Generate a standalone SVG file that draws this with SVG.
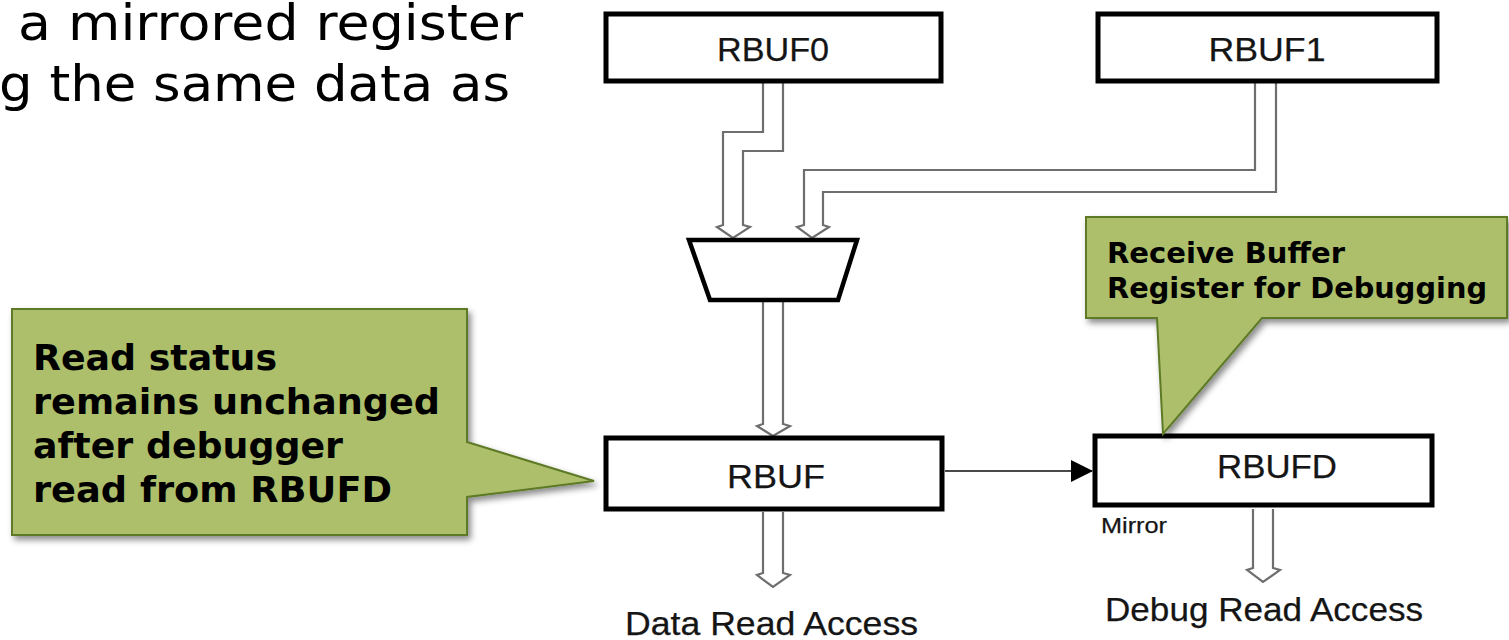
<svg xmlns="http://www.w3.org/2000/svg" width="1509" height="640" viewBox="0 0 1509 640">
  <style>
    .reg { fill: #ffffff; stroke: #000000; stroke-width: 5; }
    .mux { fill: #ffffff; stroke: #000000; stroke-width: 4.5; stroke-linejoin: miter; }
    .bus { fill: none; stroke: #6e6e6e; stroke-width: 2.2; stroke-linejoin: miter; }
    .wire { fill: none; stroke: #4a4a4a; stroke-width: 2.2; }
    .lbl { font-family: "Liberation Sans", Arial, sans-serif; fill: #151515; stroke: #151515; stroke-width: 0.25; }
    .note { fill: #adbf6b; stroke: #5e7a25; stroke-width: 2; }
    .noteText { font-family: "DejaVu Sans", Verdana, sans-serif; font-weight: bold; fill: #000000; }
    .body { font-family: "DejaVu Sans", Verdana, sans-serif; fill: #000000; }
  </style>
  <defs>
    <marker id="arrowHead" viewBox="0 0 22 22" refX="21" refY="11" markerWidth="22" markerHeight="22" markerUnits="userSpaceOnUse" orient="auto">
      <path d="M0,0 L22,11 L0,22 Z" fill="#000000"/>
    </marker>
    <filter id="shadow" x="-10%" y="-10%" width="125%" height="130%">
      <feDropShadow dx="3" dy="4" stdDeviation="3" flood-color="#000000" flood-opacity="0.45"/>
    </filter>
  </defs>

  <rect width="1509" height="640" fill="#ffffff"/>

  <!-- slide body text (partly off the left edge) -->
  <text class="body" x="18" y="40" font-size="50" textLength="505" lengthAdjust="spacingAndGlyphs">a mirrored register</text>
  <text class="body" x="-1" y="101" font-size="50" textLength="511" lengthAdjust="spacingAndGlyphs">g the same data as</text>

  <!-- connectors: hollow bus arrows and the mirror wire -->
  <g id="connectors">
    <path class="bus" d="M763,83 V132 H723 V225 L717,227 L733,238 L750,227 L743,225 V151 H783 V83"/>
    <path class="bus" d="M1255,83 V170 H804 V225 L797,227 L812,238 L829,227 L823,225 V192 H1276 V83"/>
    <path class="bus" d="M763,302 V424 L757,426 L773,436 L790,426 L783,424 V302"/>
    <path class="bus" d="M763,512 V573 L757,575 L773,587 L790,575 L783,573 V512"/>
    <path class="bus" d="M1253,509 V568 L1247,570 L1263,582 L1280,570 L1273,568 V509"/>
    <line class="wire" x1="945" y1="471" x2="1092" y2="471" marker-end="url(#arrowHead)"/>
  </g>

  <g id="rbuf0">
    <rect class="reg" x="606" y="14" width="335" height="67"/>
    <text class="lbl" x="773" y="61" font-size="34" text-anchor="middle" textLength="112" lengthAdjust="spacingAndGlyphs">RBUF0</text>
  </g>

  <g id="rbuf1">
    <rect class="reg" x="1098" y="14" width="339" height="67"/>
    <text class="lbl" x="1267" y="61" font-size="34" text-anchor="middle" textLength="117" lengthAdjust="spacingAndGlyphs">RBUF1</text>
  </g>

  <g id="mux">
    <polygon class="mux" points="689,240 857,240 838,300 710,300"/>
  </g>

  <g id="rbuf">
    <rect class="reg" x="606" y="438" width="336" height="71"/>
    <text class="lbl" x="776" y="488" font-size="34" text-anchor="middle" textLength="98" lengthAdjust="spacingAndGlyphs">RBUF</text>
    <text class="lbl" x="625" y="635" font-size="34" textLength="293" lengthAdjust="spacingAndGlyphs">Data Read Access</text>
  </g>

  <g id="rbufd">
    <rect class="reg" x="1095" y="436" width="337" height="69"/>
    <text class="lbl" x="1277" y="478" font-size="34" text-anchor="middle" textLength="120" lengthAdjust="spacingAndGlyphs">RBUFD</text>
    <text class="lbl" x="1101" y="533" font-size="22" textLength="66" lengthAdjust="spacingAndGlyphs">Mirror</text>
    <text class="lbl" x="1105" y="621" font-size="34" textLength="318" lengthAdjust="spacingAndGlyphs">Debug Read Access</text>
  </g>

  <!-- callout pointing at RBUF -->
  <g id="callout-read-status">
    <path class="note" filter="url(#shadow)" d="M12,309 H467 V442 L594,481 L467,497 V535 H12 Z"/>
    <text class="noteText" font-size="36">
      <tspan x="33" y="370" textLength="244" lengthAdjust="spacingAndGlyphs">Read status</tspan>
      <tspan x="33" y="414" textLength="407" lengthAdjust="spacingAndGlyphs">remains unchanged</tspan>
      <tspan x="33" y="458" textLength="310" lengthAdjust="spacingAndGlyphs">after debugger</tspan>
      <tspan x="33" y="502" textLength="359" lengthAdjust="spacingAndGlyphs">read from RBUFD</tspan>
    </text>
  </g>

  <!-- callout pointing at RBUFD -->
  <g id="callout-rbufd">
    <path class="note" filter="url(#shadow)" d="M1086,217 H1507 V318 H1262 L1163,434 L1157,318 H1086 Z"/>
    <text class="noteText" font-size="29">
      <tspan x="1107" y="263" textLength="238" lengthAdjust="spacingAndGlyphs">Receive Buffer</tspan>
      <tspan x="1107" y="298" textLength="380" lengthAdjust="spacingAndGlyphs">Register for Debugging</tspan>
    </text>
  </g>
</svg>
